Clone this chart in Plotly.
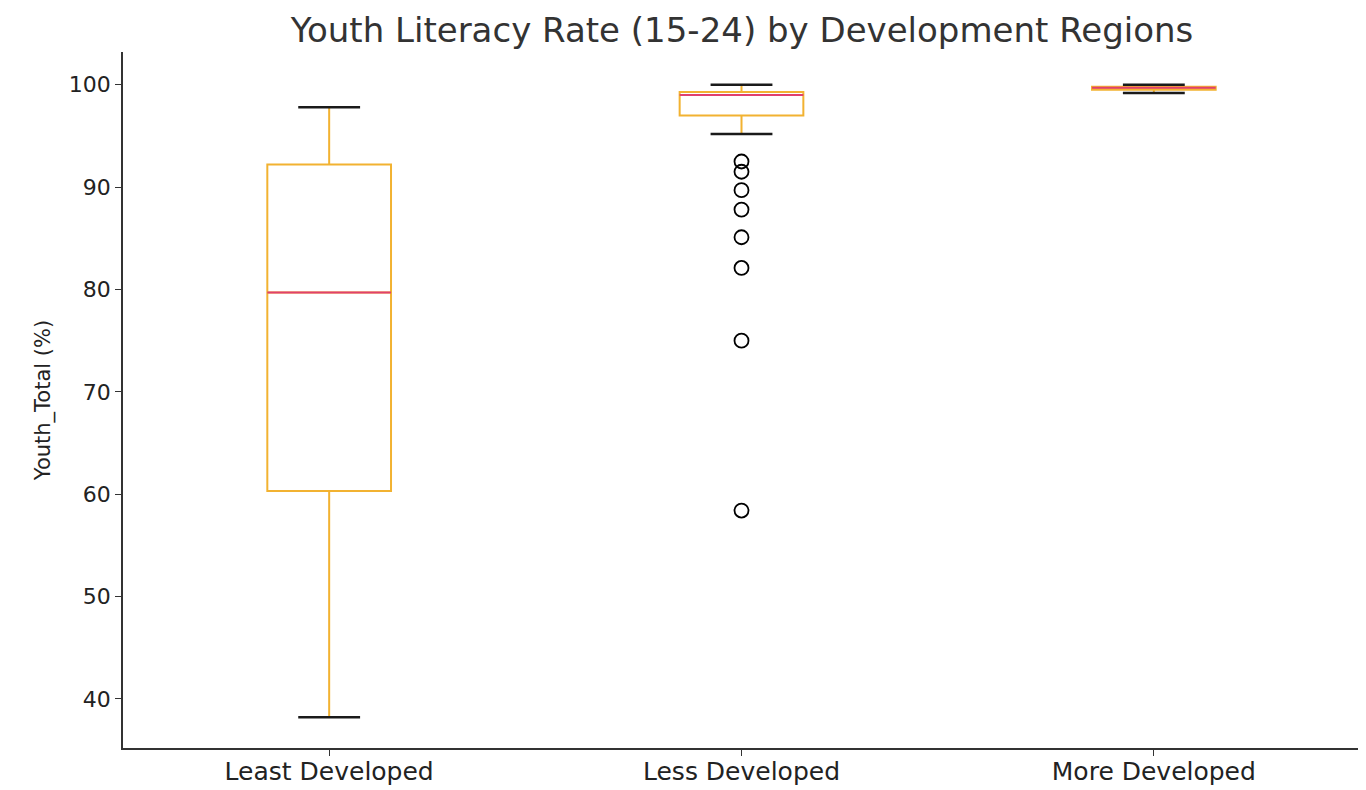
import plotly.graph_objects as go

regions = ["Least Developed", "Less Developed", "More Developed"]
lower_fence = [38.2, 95.2, 99.2]
q1 = [60.3, 97.0, 99.5]
median = [79.7, 99.0, 99.7]
q3 = [92.2, 99.3, 99.8]
upper_fence = [97.8, 100.0, 100.0]
less_outliers = [92.5, 91.5, 89.7, 87.8, 85.1, 82.1, 75.0, 58.4]

box_w = 0.3
cap_w = box_w / 2
box_color = "#f2b231"
median_color = "#e0406e"

fig = go.Figure()
for i, name in enumerate(regions):
    fig.add_trace(
        go.Box(
            x=[i],
            q1=[q1[i]],
            median=[median[i]],
            q3=[q3[i]],
            lowerfence=[lower_fence[i]],
            upperfence=[upper_fence[i]],
            width=box_w,
            whiskerwidth=0,
            line_color=box_color,
            line_width=2,
            fillcolor="rgba(0,0,0,0)",
            boxpoints=False,
            name=name,
            hoverinfo="skip",
        )
    )

# medians in their own colour, caps in black (matplotlib style)
mx, my, cx, cy = [], [], [], []
for i in range(len(regions)):
    mx += [i - box_w / 2, i + box_w / 2, None]
    my += [median[i], median[i], None]
    for v in (lower_fence[i], upper_fence[i]):
        cx += [i - cap_w / 2, i + cap_w / 2, None]
        cy += [v, v, None]

fig.add_trace(go.Scatter(x=mx, y=my, mode="lines", line=dict(color=median_color, width=2), hoverinfo="skip"))
fig.add_trace(go.Scatter(x=cx, y=cy, mode="lines", line=dict(color="#1a1a1a", width=2.5), hoverinfo="skip"))
fig.add_trace(
    go.Scatter(
        x=[1] * len(less_outliers),
        y=less_outliers,
        mode="markers",
        marker=dict(symbol="circle-open", size=14, color="black", line=dict(width=1.8)),
    )
)

font = "DejaVu Sans, sans-serif"
fig.update_layout(
    width=1358,
    height=782,
    showlegend=False,
    plot_bgcolor="white",
    paper_bgcolor="white",
    margin=dict(l=115, r=6, t=44, b=42),
    font=dict(family=font, size=22, color="#222222"),
    title=dict(
        text="Youth Literacy Rate (15-24) by Development Regions",
        x=0.5405, xanchor="center", y=0.972, yanchor="middle",
        font=dict(size=34, color="#333333"),
    ),
)
fig.update_xaxes(
    range=[-0.5, 2.5],
    tickvals=list(range(len(regions))),
    ticktext=regions,
    showgrid=False,
    zeroline=False,
    showline=True,
    linecolor="#333333",
    linewidth=1.5,
    ticks="outside",
    ticklen=6,
    tickcolor="#333333",
    tickfont=dict(size=25),
    ticklabelstandoff=-6,
    automargin=False,
)
fig.update_yaxes(
    range=[35.2, 103.2],
    tickvals=[40, 50, 60, 70, 80, 90, 100],
    title=dict(text="Youth_Total (%)", font=dict(size=21), standoff=12),
    showgrid=False,
    zeroline=False,
    showline=True,
    linecolor="#333333",
    linewidth=1.5,
    ticks="outside",
    ticklen=6,
    tickcolor="#333333",
    tickfont=dict(size=22),
    automargin=False,
)

fig.write_html("out.html")
